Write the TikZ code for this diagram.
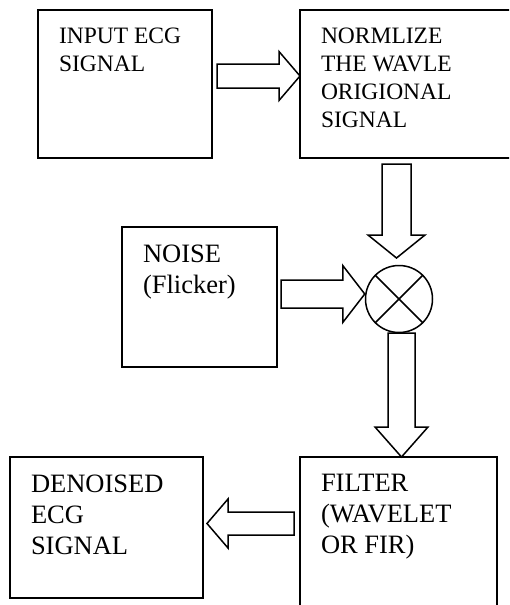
\documentclass[tikz,border=0pt]{standalone}
\usepackage{fontspec}
\setmainfont{Liberation Serif}
\usepackage{tikz}
\usetikzlibrary{calc}

\tikzset{
	block/.style={draw, line width=1.5pt, rectangle, anchor=north west, inner xsep=21pt, inner ysep=17.5pt, outer sep=0pt},
	smalltext/.style={font=\fontsize{23.5}{28}\selectfont},
	bigtext/.style={font=\fontsize{26.5}{31}\selectfont},
	fat/.style={draw, line width=1.5pt, line join=miter}
}

% hollow block arrow: tail, tip, half shaft, half head, head length
\newcommand{\fatarrow}[5]{
	\coordinate (hb) at ($(#2)!#5!(#1)$);
	\draw[fat] ($(#1)!#3!90:(#2)$) -- ($(hb)!#3!90:(#2)$) -- ($(hb)!#4!90:(#2)$) -- (#2)
		-- ($(hb)!#4!-90:(#2)$) -- ($(hb)!#3!-90:(#2)$) -- ($(#1)!#3!-90:(#2)$) -- cycle;
}
\newcommand{\btext}[3]{\parbox[t][#1][t]{#2}{\raggedright #3}}

\begin{document}
\begin{tikzpicture}[x=1pt,y=-1pt]
	\useasboundingbox (0,0) rectangle (509,605);
	\clip (0,0) rectangle (509,605);

	\node[block, smalltext] (inp) at (38,10) {\btext{113pt}{132pt}{INPUT ECG\\SIGNAL}};
	\node[block, smalltext] (norm) at (300,10) {\btext{113pt}{188pt}{NORMLIZE\\THE WAVLE\\ORIGIONAL\\SIGNAL}};
	\node[block, bigtext] (noise) at (122,227) {\btext{105pt}{113pt}{NOISE\\(Flicker)}};
	\node[draw, line width=1.5pt, circle, minimum size=67pt, inner sep=0pt] (mix) at (399,299) {};
	\draw[line width=1.5pt] (mix.north west) -- (mix.south east);
	\draw[line width=1.5pt] (mix.north east) -- (mix.south west);
	\node[block, bigtext] (filt) at (300,457) {\btext{165pt}{155pt}{FILTER\\(WAVELET\\OR FIR)}};
	\node[block, bigtext] (den) at (10,457) {\btext{106pt}{151pt}{DENOISED\\ECG\\SIGNAL}};

	\coordinate (t1) at (217,76);
	\coordinate (h1) at (norm.west |- t1);
	\fatarrow{t1}{h1}{12pt}{24.5pt}{21pt}

	\coordinate (t2) at (396.5,164);
	\coordinate (h2) at (396.5,258);
	\fatarrow{t2}{h2}{14.5pt}{28.5pt}{23pt}

	\coordinate (t3) at (281,294);
	\coordinate (h3) at (mix.west |- t3);
	\fatarrow{t3}{h3}{14pt}{28.5pt}{22pt}

	\coordinate (t4) at (401.5,333);
	\coordinate (h4) at (filt.north -| t4);
	\fatarrow{t4}{h4}{13.5pt}{26.5pt}{30pt}

	\coordinate (t5) at (294,523.5);
	\coordinate (h5) at (207,523.5);
	\fatarrow{t5}{h5}{11.5pt}{24.5pt}{21pt}
\end{tikzpicture}
\end{document}
